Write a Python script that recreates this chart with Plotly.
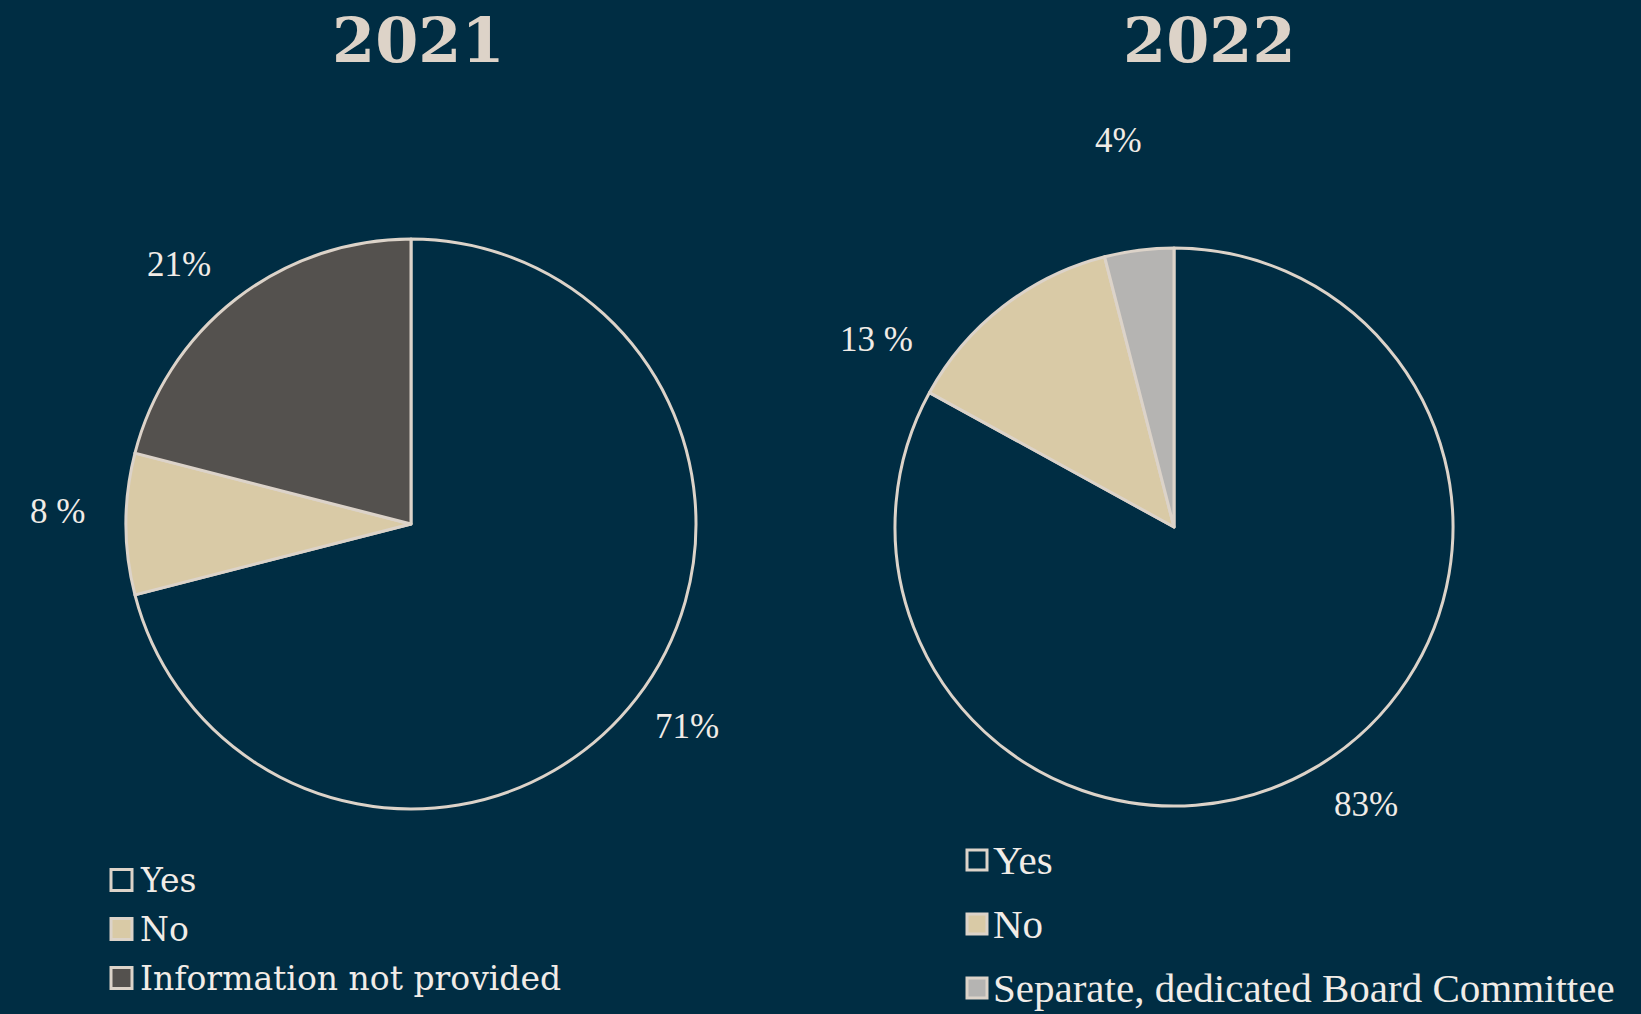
import numpy as np
import plotly.graph_objects as go

# ---- data -------------------------------------------------------------
years = ["2021", "2022"]

labels_2021 = ["Yes", "No", "Information not provided"]
values_2021 = [71, 8, 21]
text_2021 = ["71%", "8 %", "21%"]

labels_2022 = ["Yes", "No", "Separate, dedicated Board Committee"]
values_2022 = [83, 13, 4]
text_2022 = ["83%", "13 %", "4%"]

# ---- styling ----------------------------------------------------------
W, H = 1641, 1014
BG = "#002D43"
EDGE = "#DCD3C9"
TEXT = "#F1ECE7"
colors_2021 = [BG, "#D9CAA6", "#54514E"]
colors_2022 = [BG, "#D9CAA6", "#B5B4B2"]

# pie geometry in pixels: centre x, centre y (from top), radius
pie_geom = [(411, 524, 285), (1174, 527, 279)]
# how far out (in radii) each percentage label sits, and a small angular
# nudge (degrees) away from the slice's mid-angle
label_dist = [[1.2, 1.24, 1.22], [1.21, 1.26, 1.4]]
label_nudge = [[-1.5, 2, -4], [-4, -20, -1]]
title_x = [418, 1209]

legend_cfg = [
    dict(box_x=111, box_w=21, box_h=21, text_x=138, y0=880, dy=49,
         font=dict(family="DejaVu Serif", size=33, color=TEXT)),
    dict(box_x=967, box_w=20, box_h=20, text_x=991, y0=860, dy=64,
         font=dict(family="Liberation Serif", size=41, color=TEXT)),
]

series = [
    (labels_2021, values_2021, text_2021, colors_2021),
    (labels_2022, values_2022, text_2022, colors_2022),
]

fig = go.Figure()
annotations = []
shapes = []

for i, (labels, values, texts, colors) in enumerate(series):
    cx, cy, r = pie_geom[i]
    fig.add_trace(go.Pie(
        labels=labels,
        values=values,
        sort=False,
        direction="clockwise",
        rotation=0,
        textinfo="none",
        hovertemplate="%{label}: %{value}%<extra></extra>",
        marker=dict(colors=colors, line=dict(color=EDGE, width=3)),
        domain=dict(x=[(cx - r) / W, (cx + r) / W],
                    y=[(H - cy - r) / H, (H - cy + r) / H]),
        showlegend=False,
    ))

    # percentage labels placed along each slice's mid-angle
    vals = np.array(values, dtype=float)
    frac = vals / vals.sum()
    mids = (np.cumsum(frac) - frac / 2) * 2 * np.pi
    for t, a, k, nd in zip(texts, mids, label_dist[i], label_nudge[i]):
        a = a + np.deg2rad(nd)
        px = cx + k * r * np.sin(a)
        py = cy - k * r * np.cos(a)
        annotations.append(dict(
            x=px / W, y=1 - py / H, xref="paper", yref="paper",
            text=t, showarrow=False, xanchor="center", yanchor="middle",
            font=dict(family="Liberation Serif", size=35, color=TEXT),
        ))

    # year heading
    annotations.append(dict(
        x=title_x[i] / W, y=1 - 41 / H, xref="paper", yref="paper",
        text="<b>%s</b>" % years[i], showarrow=False,
        xanchor="center", yanchor="middle",
        font=dict(family="DejaVu Serif", size=62, color="#DDD3C8"),
    ))

    # legend: swatch + label per category
    cfg = legend_cfg[i]
    for j, (lab, col) in enumerate(zip(labels, colors)):
        yc = cfg["y0"] + j * cfg["dy"]
        shapes.append(dict(
            type="rect", xref="paper", yref="paper",
            x0=cfg["box_x"] / W, x1=(cfg["box_x"] + cfg["box_w"]) / W,
            y0=1 - (yc + cfg["box_h"] / 2) / H, y1=1 - (yc - cfg["box_h"] / 2) / H,
            fillcolor=col, line=dict(color=EDGE, width=3),
        ))
        annotations.append(dict(
            x=cfg["text_x"] / W, y=1 - yc / H, xref="paper", yref="paper",
            text=lab, showarrow=False, xanchor="left", yanchor="middle",
            font=cfg["font"],
        ))

fig.update_layout(
    width=W, height=H,
    margin=dict(l=0, r=0, t=0, b=0),
    paper_bgcolor=BG, plot_bgcolor=BG,
    annotations=annotations, shapes=shapes,
)

fig.write_html("out.html")
